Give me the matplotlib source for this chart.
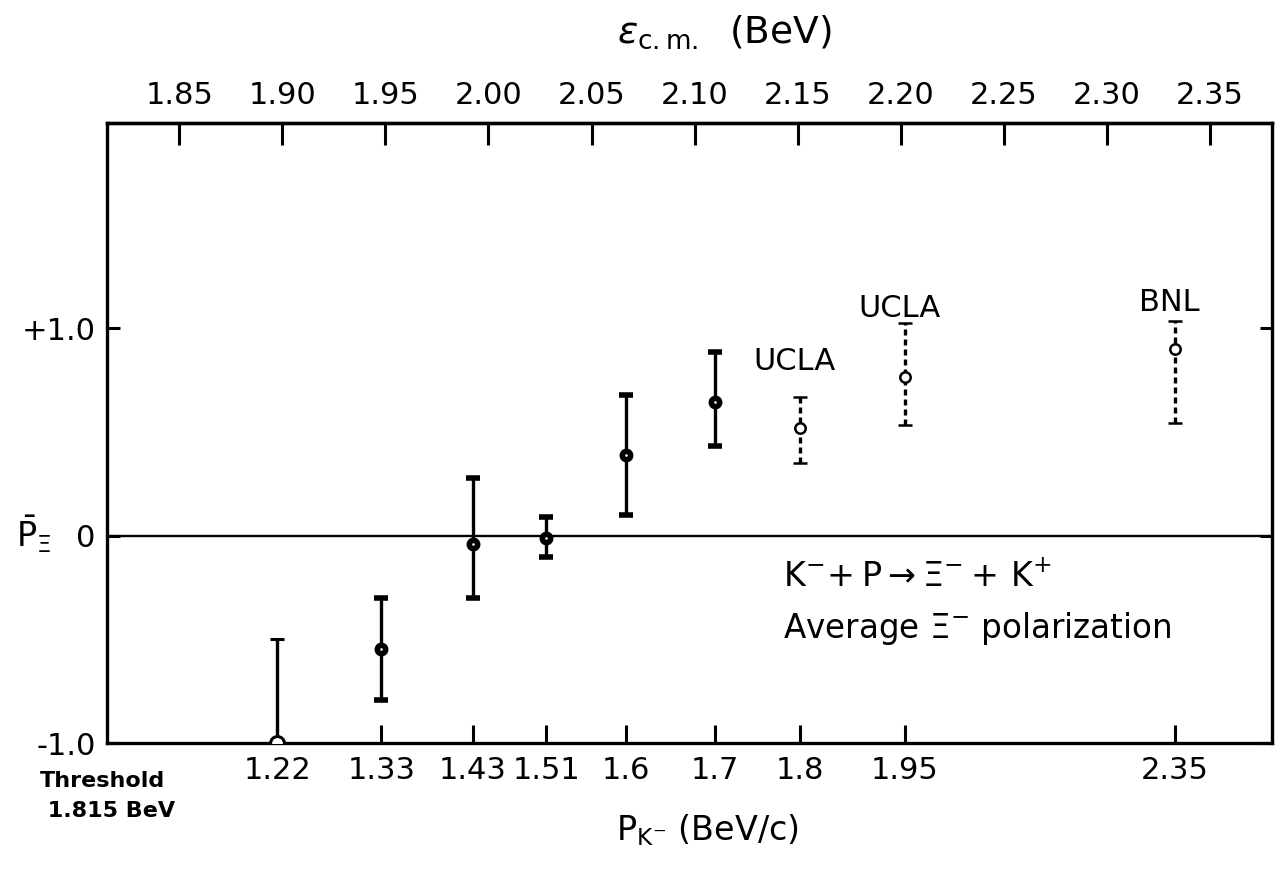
import numpy as np
import matplotlib.pyplot as plt

# top axis: c.m. energy (BeV)
ecm_ticks = [1.85, 1.90, 1.95, 2.00, 2.05, 2.10, 2.15, 2.20, 2.25, 2.30, 2.35]
ecm_labels = ['1.85', '1.90', '1.95', '2.00', '2.05', '2.10', '2.15', '2.20', '2.25', '2.30', '2.35']

# bottom axis: K- beam momentum (BeV/c), placed at its c.m. energy
pk_labels = ['1.22', '1.33', '1.43', '1.51', '1.6', '1.7', '1.8', '1.95', '2.35']
pk_ecm = [1.8975, 1.948, 1.9923, 2.028, 2.0667, 2.1097, 2.1513, 2.202, 2.333]

# this experiment - average Xi- polarization
p_k = ['1.22', '1.33', '1.43', '1.51', '1.6', '1.7']
pol = [-1.0, -0.548, -0.042, -0.011, 0.391, 0.645]
err_hi = [0.503, 0.245, 0.321, 0.100, 0.285, 0.241]
err_lo = [0.5, 0.245, 0.261, 0.093, 0.289, 0.214]

# other experiments
other_names = ['UCLA', 'UCLA', 'BNL']
other_pk = ['1.8', '1.95', '2.35']
other_pol = [0.520, 0.767, 0.901]
other_hi = [0.147, 0.257, 0.135]
other_lo = [0.169, 0.231, 0.356]
other_text_y = [0.841, 1.096, 1.125]

pos = dict(zip(pk_labels, pk_ecm))
x = [pos[p] for p in p_k]
xo = [pos[p] for p in other_pk]

fig = plt.figure(figsize=(12.75, 8.76), dpi=100)
ax = fig.add_axes([0.0839, 0.1518, 0.9137, 0.7078])
ax.set_xlim(1.815, 2.38)
ax.set_ylim(-1.0, 1.99)

for s in ax.spines.values():
    s.set_linewidth(2.4)

ax.axhline(0, color='black', lw=1.7, zorder=1)

# first point sits on the lower edge, drawn as open circle
ax.errorbar(x[:1], pol[:1], yerr=[err_lo[:1], err_hi[:1]], fmt='o', color='black',
            ms=10, mfc='white', mew=2.2, elinewidth=2.4, capsize=5, capthick=2.4, zorder=3)
ax.errorbar(x[1:], pol[1:], yerr=[err_lo[1:], err_hi[1:]], fmt='o', color='black',
            ms=6, mfc='white', mew=4, elinewidth=2.4, capsize=5, capthick=2.4, zorder=3)

eb = ax.errorbar(xo, other_pol, yerr=[other_lo, other_hi], fmt='o', color='black',
                 ms=7.5, mfc='white', mew=1.8, elinewidth=2.4, capsize=5, capthick=2.4, zorder=3)
eb[2][0].set_linestyle((0, (1.8, 1.2)))

for name, xx, yy in zip(other_names, xo, other_text_y):
    ax.annotate(name, (xx, yy), xytext=(-4, 0), textcoords='offset points',
                ha='center', va='center', fontsize=22)

ax.text(pos['1.8'] - 0.0085, -0.2, r'$\mathrm{K^{-}\!+P \rightarrow \Xi^{-}+\,K^{+}}$',
        fontsize=24, ha='left', va='center')
ax.text(pos['1.8'] - 0.0085, -0.45, r'Average $\mathrm{\Xi^{-}}$ polarization',
        fontsize=23.5, ha='left', va='center')

# bottom ticks: K- momentum
ax.set_xticks(pk_ecm)
ax.set_xticklabels(pk_labels, fontsize=22)
ax.tick_params(axis='x', direction='in', length=13, width=2.2, pad=9)

# y ticks
ax.set_yticks([-1.0, 0, 1.0])
ax.set_yticklabels(['-1.0', '0', '+1.0'], fontsize=22)
ax.tick_params(axis='y', direction='in', length=9, width=2.2, pad=8, right=True)

# top axis: c.m. energy
top = ax.secondary_xaxis('top')
top.set_xticks(ecm_ticks)
top.set_xticklabels(ecm_labels, fontsize=22)
top.tick_params(direction='in', length=16, width=2.2, pad=9)
top.spines['top'].set_linewidth(2.4)

fig.text(0.568, 0.963, r'$\epsilon_{\mathrm{c.m.}}$  (BeV)', fontsize=27, ha='center', va='center')
fig.text(0.555, 0.052, r'$\mathrm{P_{K^{-}}}$ (BeV/c)', fontsize=24, ha='center', va='center')
fig.text(0.026, 0.39, r'$\mathrm{\bar{P}_{\Xi}}$', fontsize=24, ha='center', va='center')
fig.text(0.031, 0.091, 'Threshold\n 1.815 BeV', fontsize=16, fontweight='bold',
         ha='left', va='center', linespacing=1.6)

fig.savefig('out.png', dpi=100)
